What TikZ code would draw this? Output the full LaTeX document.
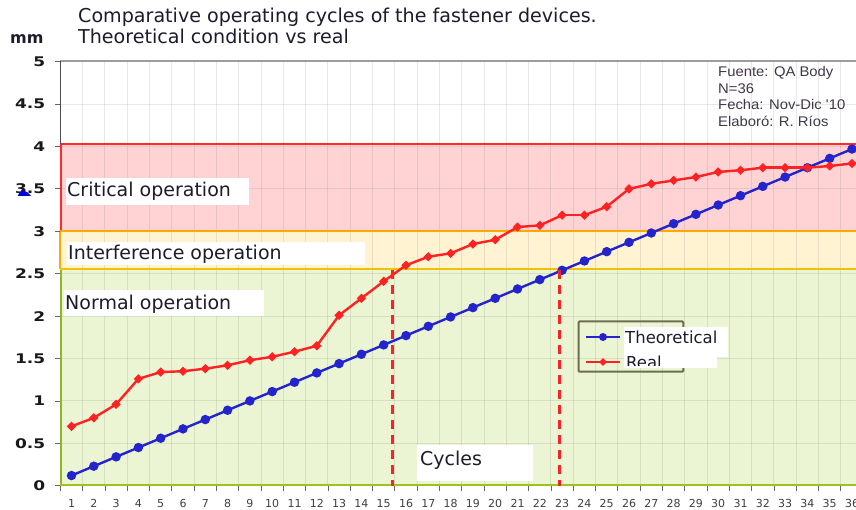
\documentclass[tikz,border=0pt]{standalone}
\usepackage{fontspec}
\setmainfont{DejaVu Sans}
\newfontfamily\axisfont[FakeStretch=1.28]{DejaVu Sans}
\newfontfamily\arialfont[FakeStretch=1.06]{Liberation Sans}
\usetikzlibrary{shapes.geometric,calc}
\definecolor{critfill}{HTML}{FFD3D3}
\definecolor{critline}{HTML}{FF2A2A}
\definecolor{intfill}{HTML}{FFF3D2}
\definecolor{intline}{HTML}{FFA800}
\definecolor{intbot}{HTML}{F2C200}
\definecolor{normfill}{HTML}{EBF4D3}
\definecolor{normline}{HTML}{8DB821}
\definecolor{theo}{HTML}{2424CC}
\definecolor{realc}{HTML}{FF2222}
\definecolor{legframe}{HTML}{6E6E50}
\definecolor{txt}{HTML}{1C1C2C}
\definecolor{srctxt}{HTML}{40384A}
\begin{document}
\begin{tikzpicture}[x=1pt,y=-1pt,
  gridline/.style={draw=black!55,opacity=0.16,line width=1pt},
  tickline/.style={draw=black!60,line width=0.8pt},
  ylab/.style={anchor=east,inner sep=0pt,text=black!90,font=\axisfont\bfseries\fontsize{13.3}{14}\selectfont},
  xlab/.style={anchor=center,inner sep=0pt,text=black!75,font=\fontsize{11}{12}\selectfont},
  whitebox/.style={fill=white,anchor=north west,inner sep=0pt},
  bandtext/.style={anchor=base west,inner sep=0pt,text=txt,font=\fontsize{19}{21}\selectfont},
  tline/.style={draw=theo,line width=2.4pt},
  rline/.style={draw=realc,line width=2.4pt},
  tmark/.style={circle,fill=theo,inner sep=0pt,minimum size=9.5pt},
  rmark/.style={diamond,fill=realc,inner sep=0pt,minimum size=9.5pt},
  limitline/.style={draw=realc,line width=3pt,dash pattern=on 9pt off 6pt},
  legentry/.style={anchor=base west,inner sep=0pt,text=txt,font=\fontsize{16.5}{18}\selectfont}]
\useasboundingbox (0,0) rectangle (856,510);
\fill[white] (0,0) rectangle (856,510);
% bands
\fill[critfill] (61,144) rectangle (856,231);
\fill[intfill] (60,231) rectangle (856,269.5);
\fill[normfill] (60,269.5) rectangle (856,485.7);
% grid
\foreach \k in {1,...,35} \draw[gridline] ({60.35+22.3*\k},62) -- ({60.35+22.3*\k},485);
\foreach \v in {0.5,1,1.5,2,2.5,3,3.5,4,4.5} \draw[gridline] (61,{485.7-84.8*\v}) -- (856,{485.7-84.8*\v});
% band borders
\draw[critline,line width=2pt] (61,231) -- (61,144) -- (856,144);
\draw[intline,line width=2pt] (59.5,269) -- (59.5,231) -- (856,231);
\draw[intbot,line width=2pt] (59.5,269.5) -- (856,269.5);
\draw[normline,line width=2pt] (60.5,270.5) -- (60.5,485.7);
\draw[normline!85!yellow,line width=2.6pt] (59.5,485) -- (856,485);
% top border and upper axis
\draw[black!38,line width=2pt] (60.4,61.5) -- (856,61.5);
\draw[black!70,line width=1.3pt] (60.4,61) -- (60.4,144);
% y ticks and labels
\foreach \v in {0,0.5,1,1.5,2,2.5,3,3.5,4,4.5,5} \draw[tickline] (55,{485.7-84.8*\v}) -- (60,{485.7-84.8*\v});
\foreach \v/\t [count=\n] in {0/0,0.5/0.5,1/1,1.5/1.5,2/2,2.5/2.5,3/3,3.5/3.5,4/4,4.5/4.5,5/5}
  \node[ylab] (yl\n) at (45.5,{485.7-84.8*\v}) {\t};
\fill[blue!85!black] (17.5,196) -- (31,196) -- (27.5,192.5) -- (22,189.5) -- cycle;
% x ticks and labels
\foreach \k in {0,...,36} \draw[tickline] ({60.35+22.3*\k},486) -- ({60.35+22.3*\k},491);
\foreach \i in {1,...,36} \node[xlab] (xl\i) at ({60.35+22.3*(\i-0.5)},503.5) {\i};
% titles
\node[anchor=base west,inner sep=0pt,text=txt,font=\fontsize{19.1}{21}\selectfont] (title1) at (78,23) {Comparative operating cycles of the fastener devices.};
\node[anchor=base west,inner sep=0pt,text=txt,font=\fontsize{19.1}{21}\selectfont] (title2) at (78,43.5) {Theoretical condition vs real};
\node[anchor=base west,inner sep=0pt,text=txt,font=\bfseries\fontsize{16}{18}\selectfont] (unit) at (10,43.5) {mm};
% source box
\node[anchor=north west,inner sep=0pt,align=left,text=srctxt,font=\arialfont\fontsize{14}{16.8}\selectfont] (src) at (718,66) {Fuente: QA Body\\N=36\\Fecha: Nov-Dic '10\\Elaboró: R. Ríos};
% band labels
\node[whitebox,minimum width=182.6pt,minimum height=26.7pt] (crit) at (65.7,178.3) {};
\node[bandtext] (critt) at (67,196.7) {Critical operation};
\node[whitebox,minimum width=298.3pt,minimum height=23.5pt] (interf) at (66.7,241.7) {};
\node[bandtext] (interft) at (68,259.3) {Interference operation};
\node[whitebox,minimum width=200pt,minimum height=26pt] (norm) at (63.3,290) {};
\node[bandtext] (normt) at (65,309) {Normal operation};
% data
\begin{scope}[shift={(60.35,485.7)},x=22.3pt,y=84.8pt]
  \foreach \i in {1,...,36} \coordinate (t\i) at ({\i-0.5},{0.11*\i+0.01});
  \foreach \v [count=\i] in {0.70,0.80,0.96,1.26,1.34,1.35,1.38,1.42,1.48,1.52,1.58,1.65,2.01,2.21,2.41,2.60,2.70,2.74,2.85,2.90,3.05,3.07,3.19,3.19,3.29,3.50,3.56,3.60,3.64,3.70,3.72,3.75,3.75,3.75,3.77,3.80}
    \coordinate (r\i) at ({\i-0.5},\v);
  \coordinate (d1a) at (14.9,2.54);
  \coordinate (d1b) at (14.9,0);
  \coordinate (d2a) at (22.4,2.54);
  \coordinate (d2b) at (22.4,0);
\end{scope}
\foreach \i [remember=\i as \j (initially 1)] in {2,...,36} \draw[tline] (t\j) -- (t\i);
\foreach \i in {1,...,36} \node[tmark] (tm\i) at (t\i) {};
\foreach \i [remember=\i as \j (initially 1)] in {2,...,36} \draw[rline] (r\j) -- (r\i);
\foreach \i in {1,...,36} \node[rmark] (rm\i) at (r\i) {};
\draw[limitline] (d1a) -- (d1b);
\draw[limitline] (d2a) -- (d2b);
% cycles label
\node[whitebox,minimum width=116pt,minimum height=36pt] (cyc) at (417,445) {};
\node[bandtext] (cyct) at (420,465.5) {Cycles};
% legend
\draw[legframe,line width=2pt,rounded corners=1pt] (578.5,321.5) rectangle (683.3,371.7);
\coordinate (lt1) at (586,337);
\coordinate (lt2) at (620,337);
\coordinate (lr1) at (586,362);
\coordinate (lr2) at (620,362);
\draw[tline,line width=2pt] (lt1) -- (lt2);
\node[tmark,minimum size=8pt] (ltm) at ($(lt1)!0.5!(lt2)$) {};
\draw[rline,line width=2pt] (lr1) -- (lr2);
\node[rmark,minimum size=8pt] (lrm) at ($(lr1)!0.5!(lr2)$) {};
\fill[white] (624,327) rectangle (728,357);
\fill[white] (624,357) rectangle (716.5,368.3);
\node[legentry] (legT) at (625,343.5) {Theoretical};
\begin{scope}
  \clip (624,327) rectangle (716.5,365.3);
  \node[legentry] (legR) at (626,368.5) {Real};
\end{scope}
\end{tikzpicture}
\end{document}
